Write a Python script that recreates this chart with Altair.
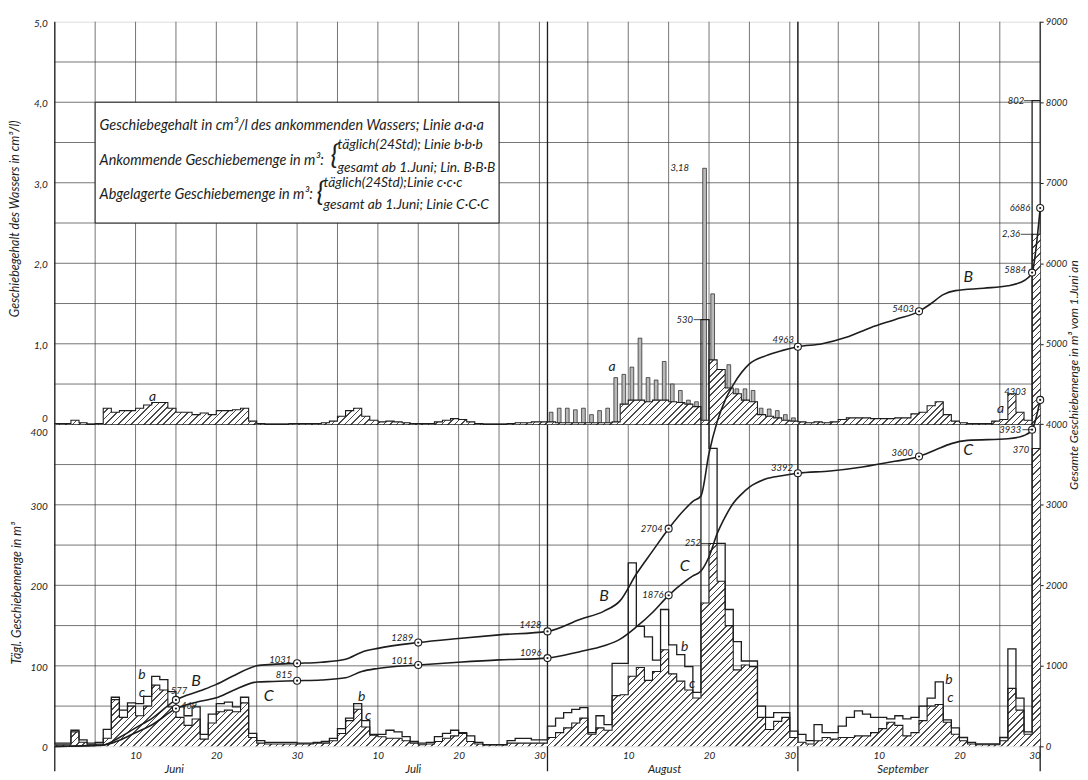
import math
import pandas as pd
import altair as alt

FONT = "Lato"
INK = "#1d1d1d"
GRID = "#3a3a3a"
W, H = 990, 728
NDAYS = 122
YMAX = 9000

# ---------------- data ----------------
# daily incoming bed load b (m3/24h), deposited c (m3/24h), content a (cm3/l)
b_juni = [4,4,20,8,4,5,21,61,45,54,53,62,87,83,68,49,38,49,15,40,53,55,49,61,16,7,5,5,5,5]
c_juni = [2,2,18,5,2,3,10,58,36,50,38,50,76,70,49,36,26,34,9,29,43,45,43,54,11,4,3,3,3,3]
a_juni = [0.01,0.01,0.05,0.02,0.0,0.01,0.2,0.15,0.17,0.17,0.2,0.24,0.27,0.27,0.2,
          0.15,0.15,0.12,0.14,0.12,0.17,0.17,0.18,0.2,0.04,0.01,0.0,0.0,0.0,0.01]

b_juli = [4,4,5,6,10,22,35,53,32,15,15,20,18,12,6,4,5,12,16,20,17,13,5,2,2,2,7,10,10,8,8]
c_juli = [3,3,4,4,7,16,32,46,24,14,12,10,10,7,4,2,3,6,10,13,16,6,3,2,2,2,4,4,4,4,4]
a_juli = [0.01,0.01,0.01,0.02,0.04,0.1,0.17,0.2,0.1,0.05,0.03,0.04,0.03,0.02,0.01,
          0.01,0.01,0.03,0.05,0.07,0.06,0.03,0.01,0.0,0.0,0.0,0.01,0.02,0.02,0.03,0.03]

b_aug = [25,35,42,46,48,17,38,27,103,103,228,149,136,107,170,126,114,99,67,530,370,252,170,130,106,106,50,36,42,42,19]
c_aug = [11,17,23,29,35,15,23,20,63,64,87,98,82,93,120,90,81,70,60,178,252,205,150,95,101,99,36,21,31,36,11]
a_aug = [0.03,0.02,0.02,0.02,0.02,0.02,0.02,0.02,0.03,0.25,0.3,0.3,0.28,0.3,0.3,
         0.28,0.27,0.25,0.22,0.05,0.8,0.68,0.45,0.38,0.3,0.28,0.12,0.1,0.08,0.05,0.04]
# narrow columns of a in August (cm3/l)
a_bar_aug = [0.15,0.2,0.2,0.18,0.2,0.12,0.17,0.2,0.58,0.62,0.71,1.07,0.58,0.55,0.78,
             0.5,0.42,0.3,0.28,3.18,1.62,0.67,0.74,0.44,0.44,0.42,0.2,0.19,0.17,0.12,0.08]

b_sep = [15,7,27,17,17,25,36,44,40,36,36,34,38,34,36,50,60,80,33,23,11,5,3,3,3,11,121,60,18,802]
c_sep = [5,3,7,11,9,11,11,13,13,17,22,30,26,13,17,32,50,52,30,15,7,3,2,2,2,7,72,45,15,370]
a_sep = [0.03,0.02,0.03,0.02,0.03,0.06,0.08,0.08,0.08,0.07,0.07,0.07,0.08,0.08,0.13,
         0.15,0.23,0.28,0.12,0.04,0.02,0.01,0.01,0.01,0.04,0.06,0.38,0.15,0.05,2.36]

# cumulative curves B (incoming) and C (deposited), m3 since 1 June (day index, value)
B_t = [0,3,5,6,8,10,12,15,18,20,22,25,27,30,33,36,38,40,45,50,55,61,65,68,70,72,74,76,78,79,
       80,81,82,83,84,86,88,90,92,95,98,101,104,107,108.5,110,111.5,115,118,119.5,120.5,121,122]
B_v = [0,5,12,17,110,230,345,577,690,770,870,1000,1018,1031,1045,1082,1170,1217,1289,1340,
       1385,1428,1576,1680,1810,2140,2425,2704,2944,3043,3110,3640,4030,4300,4490,4750,4850,
       4915,4963,5000,5080,5200,5300,5403,5500,5610,5660,5690,5720,5760,5820,5884,6686]
C_t = [0,3,5,6,8,10,12,15,18,20,22,25,27,30,33,36,38,40,45,50,55,61,65,68,70,72,74,76,78,79,
       80,81,82,83,84,85,86,88,90,92,96,100,104,107,109,111,113,118,120,121,122]
C_v = [0,4,11,14,75,170,265,469,560,603,690,799,806,815,825,852,930,968,1011,1045,1074,1096,
       1176,1249,1332,1483,1663,1876,2047,2117,2177,2355,2640,2850,3020,3130,3220,3320,3360,
       3392,3420,3470,3540,3600,3680,3760,3800,3820,3860,3933,4303]

# labelled points
mark_t = [15, 30, 45, 61, 76, 92, 107, 121, 122]
B_mark = [577, 1031, 1289, 1428, 2704, 4963, 5403, 5884, 6686]
C_mark = [469, 815, 1011, 1096, 1876, 3392, 3600, 3933, 4303]

# axis texts
right_ticks = [0,1000,2000,3000,4000,5000,6000,7000,8000,9000]
left_vals = [0,1000,2000,3000,4000,4000,5000,6000,7000,8000,9000]
left_text = ["0","100","200","300","400","0","1,0","2,0","3,0","4,0","5,0"]
x_ticks = [10,20,30,40,50,60,71,81,91,102,112,122]
month_names = ["Juni", "Juli", "August", "September"]
month_pos = [14.8, 44.4, 75.5, 105.0]

hgrid_vals = list(range(500, 9000, 500))
vgrid_vals = [5,10,15,20,25,30,35,40,45,50,55,60,61,66,71,76,81,86,91,92,97,102,107,112,117]
month_edges = [0, 61, 92, 122]

# ---------------- helpers ----------------
xs = alt.Scale(domain=[0, NDAYS], nice=False, zero=False)
ys = alt.Scale(domain=[0, YMAX], nice=False, zero=False)

xaxis = alt.Axis(values=x_ticks,
                 labelExpr="'' + (datum.value <= 30 ? datum.value : datum.value <= 61 ? datum.value - 30 : datum.value <= 92 ? datum.value - 61 : datum.value - 92)",
                 title=None, grid=False, ticks=False, domain=False, labelFont=FONT,
                 labelFontStyle="italic", labelFontSize=10, labelColor=INK, labelPadding=4)
yaxis = alt.Axis(orient="right", values=right_ticks, format="d", title=None, grid=False,
                 ticks=True, tickSize=3, tickColor=INK, domain=False, labelFont=FONT,
                 labelFontStyle="italic", labelFontSize=9.5, labelColor=INK, labelPadding=2)


def X(f):
    return alt.X(f, type="quantitative", scale=xs, axis=xaxis)


def Y(f):
    return alt.Y(f, type="quantitative", scale=ys, axis=yaxis)


def hatch(h_px, spacing=4.6, frac=0.24, ink="#4a4a4a", paper="#ffffff"):
    k = h_px / W
    L = (1 + k) / (1 + k * k)
    per = spacing * math.sqrt(2) / (W * (1 + k))
    stops = []
    o = 0.0
    while o < 1.0:
        o1 = min(1.0, o + frac * per)
        o2 = min(1.0, o + per)
        stops += [{"offset": round(o, 6), "color": ink}, {"offset": round(o1, 6), "color": ink},
                  {"offset": round(o1, 6), "color": paper}, {"offset": round(o2, 6), "color": paper}]
        o += per
    return {"gradient": "linear", "x1": 0, "y1": 0, "x2": L, "y2": L * k, "stops": stops}


b_daily = b_juni + b_juli + b_aug + b_sep
c_daily = c_juni + c_juli + c_aug + c_sep
a_daily = a_juni + a_juli + a_aug + a_sep


def ext(lst):
    return lst + [lst[-1]]


daily = pd.DataFrame({
    "t": list(range(NDAYS + 1)),
    "b": [v * 10 for v in ext(b_daily)],
    "c": [v * 10 for v in ext(c_daily)],
    "a": [4000 + v * 1000 for v in ext(a_daily)],
    "base": 4000,
})

bars = pd.DataFrame({
    "x1": [61 + i + 0.22 for i in range(len(a_bar_aug))],
    "x2": [61 + i + 0.68 for i in range(len(a_bar_aug))],
    "top": [4000 + v * 1000 for v in a_bar_aug],
    "base": 4000,
})

px_per_unit = H / YMAX
hatch_c = hatch(max(c_daily) * 10 * px_per_unit)
hatch_a = hatch(max(a_daily) * 1000 * px_per_unit)

layers = []
# grid
layers.append(alt.Chart(pd.DataFrame({"v": hgrid_vals})).mark_rule(color=GRID, strokeWidth=0.7).encode(y=Y("v")))
layers.append(alt.Chart(pd.DataFrame({"t": vgrid_vals})).mark_rule(color=GRID, strokeWidth=0.7).encode(x=X("t")))
layers.append(alt.Chart(pd.DataFrame({"t": month_edges})).mark_rule(color=INK, strokeWidth=1.3).encode(
    x=X("t"), y=alt.value(0), y2=alt.value(H + 25)))
layers.append(alt.Chart(pd.DataFrame({"v": [4000]})).mark_rule(color=INK, strokeWidth=1.6).encode(y=Y("v")))

# legend box
box = pd.DataFrame({"x1": [5], "x2": [55], "y1": [6500], "y2": [8000]})
layers.append(alt.Chart(box).mark_rect(fill="white", stroke=INK, strokeWidth=1).encode(
    x=X("x1"), x2=alt.X2("x2"), y=Y("y1"), y2=alt.Y2("y2")))

# narrow a columns (August)
layers.append(alt.Chart(bars).mark_rect(fill="#b9b9b9", stroke=INK, strokeWidth=0.7).encode(
    x=X("x1"), x2=alt.X2("x2"), y=Y("base"), y2=alt.Y2("top")))
# a: hatched step area + outline
layers.append(alt.Chart(daily).mark_area(interpolate="step-after", fill=hatch_a).encode(
    x=X("t"), y=Y("a"), y2=alt.Y2("base")))
layers.append(alt.Chart(daily).mark_line(interpolate="step-after", color=INK, strokeWidth=1.1).encode(
    x=X("t"), y=Y("a")))
# c: hatched step area + outline
layers.append(alt.Chart(daily).mark_area(interpolate="step-after", fill=hatch_c).encode(
    x=X("t"), y=Y("c")))
layers.append(alt.Chart(daily).mark_line(interpolate="step-after", color=INK, strokeWidth=1.1).encode(
    x=X("t"), y=Y("c")))
# b outline
layers.append(alt.Chart(daily).mark_line(interpolate="step-after", color=INK, strokeWidth=1.3).encode(
    x=X("t"), y=Y("b")))

# cumulative curves
layers.append(alt.Chart(pd.DataFrame({"t": B_t, "v": B_v})).mark_line(
    interpolate="monotone", color=INK, strokeWidth=1.6).encode(x=X("t"), y=Y("v")))
layers.append(alt.Chart(pd.DataFrame({"t": C_t, "v": C_v})).mark_line(
    interpolate="monotone", color=INK, strokeWidth=1.6).encode(x=X("t"), y=Y("v")))

marks = pd.DataFrame({"t": mark_t + mark_t, "v": B_mark + C_mark})
layers.append(alt.Chart(marks).mark_point(shape="circle", filled=True, fill="white", stroke=INK,
                                          strokeWidth=1.1, size=50, opacity=1).encode(x=X("t"), y=Y("v")))
layers.append(alt.Chart(marks).mark_point(shape="circle", filled=True, color=INK, size=5, opacity=1).encode(
    x=X("t"), y=Y("v")))

# numeric labels at marked points: (text, t, value, dx, dy, align)
num_labels = [
    ("577", 15, 577, 3, -9, "center"), ("1031", 30, 1031, -6, -3, "right"),
    ("1289", 45, 1289, -5, -5, "right"), ("1428", 61, 1428, -6, -6, "right"),
    ("2704", 76, 2704, -6, 0, "right"), ("4963", 92, 4963, -4, -7, "right"),
    ("5403", 107, 5403, -5, -2, "right"), ("5884", 121, 5884, -6, -3, "right"),
    ("6686", 122, 6686, -10, 0, "right"),
    ("469", 15, 469, 5, -3, "left"), ("815", 30, 815, -5, -6, "right"),
    ("1011", 45, 1011, -5, -4, "right"), ("1096", 61, 1096, -6, -5, "right"),
    ("1876", 76, 1876, -5, 0, "right"), ("3392", 92, 3392, -5, -5, "right"),
    ("3600", 107, 3600, -6, -4, "right"), ("3933", 121, 3933, -11, 0, "right"),
    ("4303", 122, 4303, -14, -8, "right"),
    ("3,18", 80, 7180, -12, 0, "right"), ("530", 80, 5300, -8, 0, "right"),
    ("252", 81, 2520, -8, 0, "right"), ("802", 121, 8020, -8, 0, "right"),
    ("2,36", 121, 6360, -12, 0, "right"), ("370", 121, 3700, -3, 2, "right"),
]
for txt, t, v, dx, dy, al in num_labels:
    layers.append(alt.Chart(pd.DataFrame({"t": [t], "v": [v], "s": [txt]})).mark_text(
        font=FONT, fontStyle="italic", fontSize=9.5, color=INK, align=al, baseline="middle",
        dx=dx, dy=dy).encode(x=X("t"), y=Y("v"), text="s:N"))

lead = pd.DataFrame({"t1": [79.1, 80.0, 120.0, 119.6, 119.8],
                     "t2": [80.0, 81.0, 121.0, 121.0, 120.9],
                     "v": [5300, 2520, 8020, 6360, 3933]})
layers.append(alt.Chart(lead).mark_rule(color=INK, strokeWidth=0.8).encode(
    x=X("t1"), x2=alt.X2("t2"), y=Y("v")))

# curve letters (text, t, value)
letters = [
    ("a", 12.1, 4339), ("a", 69.0, 4709), ("a", 117.1, 4195),
    ("b", 10.8, 890), ("c", 10.8, 665), ("B", 17.5, 816), ("C", 26.5, 630),
    ("b", 38.0, 618), ("c", 38.8, 371),
    ("B", 68.0, 1866), ("C", 78.0, 2237), ("b", 78.0, 1236), ("c", 78.9, 779),
    ("b", 110.7, 830), ("c", 110.9, 606), ("B", 113.1, 5830), ("C", 113.1, 3675),
]
lt = pd.DataFrame({"s": [l[0] for l in letters], "t": [l[1] for l in letters], "v": [l[2] for l in letters]})
lt["size"] = [16 if s.isupper() else 14 for s in lt["s"]]
layers.append(alt.Chart(lt).mark_text(font=FONT, fontStyle="italic", color=INK,
                                      align="center", baseline="middle").encode(
    x=X("t"), y=Y("v"), text="s:N", size=alt.Size("size:Q", scale=None, legend=None)))

# left tick labels
for v, s in zip(left_vals, left_text):
    dy = 2
    if s == "400":
        dy = 9
    elif s == "0" and v == 4000:
        dy = -5
    layers.append(alt.Chart(pd.DataFrame({"v": [v], "s": [s]})).mark_text(
        font=FONT, fontStyle="italic", fontSize=10, color=INK, align="right", baseline="middle",
        dy=dy).encode(x=alt.value(-7), y=Y("v"), text="s:N"))

# month names
layers.append(alt.Chart(pd.DataFrame({"t": month_pos, "s": month_names})).mark_text(
    font=FONT, fontStyle="italic", fontSize=11.5, color=INK, baseline="middle").encode(
    x=X("t"), y=alt.value(H + 24), text="s:N"))


def free_text(s, x, y, size=12.5, angle=0, align="left"):
    return alt.Chart(pd.DataFrame({"s": [s]})).mark_text(
        font=FONT, fontStyle="italic", fontSize=size, color=INK, align=align, baseline="middle",
        angle=angle).encode(x=alt.value(x), y=alt.value(y), text="s:N")


# axis titles
layers.append(free_text("Geschiebegehalt des Wassers in cm³/l)", -40, 198, 12.5, 270, "center"))
layers.append(free_text("Tägl. Geschiebemenge in m³", -38, 574, 12.5, 270, "center"))
layers.append(free_text("Gesamte Geschiebemenge in m³ vom 1.Juni an", 1024, 355, 12, 270, "center"))

# legend texts
LS = 14.5
SS = 13.8
layers.append(free_text("Geschiebegehalt in cm³/l des ankommenden Wassers; Linie a·a·a", 45, 105, LS))
layers.append(free_text("Ankommende  Geschiebemenge in m³:", 45, 140, LS))
layers.append(free_text("{", 277, 135, 28))
layers.append(free_text("täglich(24Std); Linie b·b·b", 284, 124, SS))
layers.append(free_text("gesamt ab 1.Juni; Lin. B·B·B", 284, 147, SS))
layers.append(free_text("Abgelagerte Geschiebemenge in m³:", 45, 174, LS))
layers.append(free_text("{", 263, 172, 28))
layers.append(free_text("täglich(24Std);Linie c·c·c", 270, 162, SS))
layers.append(free_text("gesamt ab 1.Juni; Linie C·C·C", 270, 184, SS))

chart = alt.layer(*layers).properties(
    width=W, height=H,
    padding={"left": 47, "top": 12, "right": 40, "bottom": 30},
    autosize=alt.AutoSizeParams(type="none"),
).configure_view(stroke=INK, strokeWidth=1.3).configure(background="white")

chart.save("out.html", embed_options={"renderer": "svg", "actions": False})
